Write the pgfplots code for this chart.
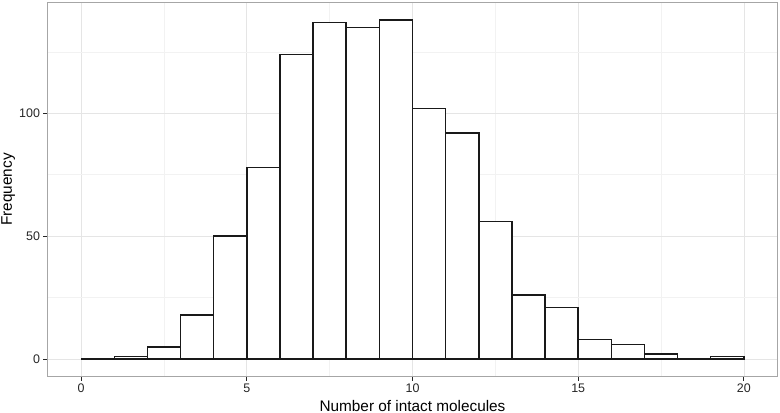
\documentclass[border=0pt]{standalone}
\usepackage{fontspec}
\setmainfont{Liberation Sans}
\usepackage{pgfplots}
\pgfplotsset{compat=1.18}
\definecolor{gridmaj}{gray}{0.90}
\definecolor{gridmin}{gray}{0.95}
\definecolor{panelborder}{gray}{0.65}
\begin{document}
\begin{tikzpicture}
\useasboundingbox (-48bp,-37bp) rectangle (732bp,376bp);
\begin{axis}[
 at={(0,0)}, anchor=south west,
 scale only axis, width=729bp, height=373bp,
 xmin=-1, xmax=21, ymin=-6.9, ymax=144.9,
 xtick={0,5,10,15,20}, ytick={0,50,100},
 minor xtick={2.5,7.5,12.5,17.5}, minor ytick={25,75,125},
 grid=both,
 major grid style={draw=gridmaj, line width=0.7bp},
 minor grid style={draw=gridmin, line width=0.7bp},
 axis line style={draw=panelborder, line width=1bp},
 tick align=outside, tick pos=left,
 major tick length=4.5bp, minor tick length=0pt,
 major tick style={draw=black!85, line width=0.8bp},
 minor tick style={draw=none},
 ticklabel style={font=\fontsize{12.5}{14}\selectfont, text=black!85},
 /pgf/number format/assume math mode=true,
 xlabel={Number of intact molecules}, ylabel={Frequency},
 label style={font=\fontsize{15.4}{18}\selectfont},
 xlabel style={at={([yshift=-35bp]axis description cs:0.5,0)}, anchor=base},
 ylabel style={at={([xshift=-36bp]axis description cs:0,0.5)}, anchor=base},
]
\addplot[ybar interval, fill=white, draw=black!90, line width=1.5bp] coordinates {
 (0,0) (1,1) (2,5) (3,18) (4,50) (5,78) (6,124) (7,137) (8,135) (9,138)
 (10,102) (11,92) (12,56) (13,26) (14,21) (15,8) (16,6) (17,2) (18,0) (19,1) (20,0)
};
\end{axis}
\end{tikzpicture}
\end{document}
